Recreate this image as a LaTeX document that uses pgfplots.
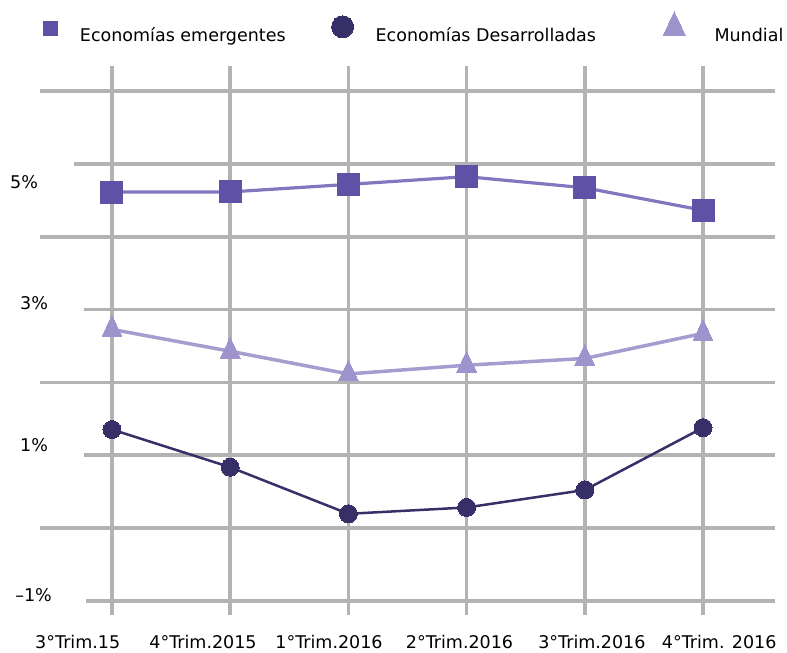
\documentclass[border=0pt]{standalone}
\usepackage{fontspec}
\setmainfont{DejaVu Sans}
\usepackage{pgfplots}
\pgfplotsset{compat=1.18}

\definecolor{gridc}{HTML}{B3B3B3}
\definecolor{emerg}{HTML}{5F52A6}
\definecolor{emergline}{HTML}{8276BE}
\definecolor{desarr}{HTML}{372F67}
\definecolor{mund}{HTML}{9E93CC}
\definecolor{mundline}{HTML}{A69CD0}

\newcommand{\lblfont}{\fontsize{17.5bp}{21bp}\selectfont}

\pgfplotsset{
    legsq/.style={legend image code/.code={\draw[##1, mark size=7bp] plot coordinates {(0bp,7.5bp)};}},
    legci/.style={legend image code/.code={\draw[##1, mark size=11bp] plot coordinates {(0bp,8.8bp)};}},
    legtr/.style={legend image code/.code={\draw[##1, mark size=13bp] plot coordinates {(0bp,8bp)};}},
}

\begin{document}
\begin{tikzpicture}
\path[use as bounding box] (0,0) rectangle (787bp,653bp);
\begin{axis}[
    at={(40bp,38bp)}, anchor=south west,
    scale only axis, width=735bp, height=549bp,
    xmin=-0.609, xmax=5.609,
    ymin=-1.195, ymax=6.346,
    clip=false,
    axis line style={draw=none},
    major tick length=0pt,
    ytick=\empty,
    xtick={-0.29,0.77,1.836,2.94,4.06,5.137},
    xticklabels={3°Trim.15, 4°Trim.2015, 1°Trim.2016, 2°Trim.2016, 3°Trim.2016, 4°Trim. 2016},
    xticklabel style={anchor=base, yshift=-33bp, font=\lblfont, inner sep=0pt},
    legend columns=3,
    legend style={
        at={(axis description cs:0.0054,1.0413)}, anchor=south west,
        draw=none, fill=none, inner sep=0pt, outer sep=0pt,
        font=\lblfont, nodes={inner sep=0pt},
        /tikz/every odd column/.append style={column sep=22bp},
        /tikz/every even column/.append style={column sep=46bp},
    },
]
% grid
\foreach \y/\xs in {6/-0.609, 5/-0.3215, 4/-0.609, 3/-0.237, 2/-0.609, 1/-0.237, 0/-0.609, -1/-0.22} {
    \edef\tmp{\noexpand\draw[gridc, line width=3.5bp] (axis cs:\xs,\y) -- (axis cs:5.609,\y);}\tmp
}
\foreach \x in {0,...,5} {
    \edef\tmp{\noexpand\draw[gridc, line width=3.5bp] (axis cs:\x,-1.195) -- (axis cs:\x,6.346);}\tmp
}

\addplot[emergline, line width=3.2bp, mark=square*, mark size=11bp,
    mark options={fill=emerg, draw=emerg, line width=0pt}, legsq]
    coordinates {(0,4.615) (1,4.616) (2,4.72) (3,4.826) (4,4.673) (5,4.364)};
\addlegendentry{Economías emergentes}

\addplot[desarr, line width=2.5bp, mark=*, mark size=9bp,
    mark options={fill=desarr, draw=desarr, line width=0pt}, legci]
    coordinates {(0,1.353) (1,0.835) (2,0.195) (3,0.282) (4,0.522) (5,1.378)};
\addlegendentry{Economías Desarrolladas\hspace*{21bp}}

\addplot[mundline, line width=3.5bp, mark=triangle*, mark size=11.5bp,
    mark options={fill=mund, draw=mund, line width=0pt, yscale=1.2}, legtr]
    coordinates {(0,2.728) (1,2.428) (2,2.116) (3,2.236) (4,2.329) (5,2.673)};
\addlegendentry{\hspace*{7bp}Mundial}

% y labels
\node[anchor=base west, inner sep=0pt, font=\lblfont] at (axis cs:-0.863,4.657) {5\%};
\node[anchor=base west, inner sep=0pt, font=\lblfont] at (axis cs:-0.778,2.995) {3\%};
\node[anchor=base west, inner sep=0pt, font=\lblfont] at (axis cs:-0.778,1.044) {1\%};
\node[anchor=base west, inner sep=0pt, font=\lblfont] at (axis cs:-0.82,-1.016) {–1\%};
\end{axis}
\end{tikzpicture}
\end{document}
